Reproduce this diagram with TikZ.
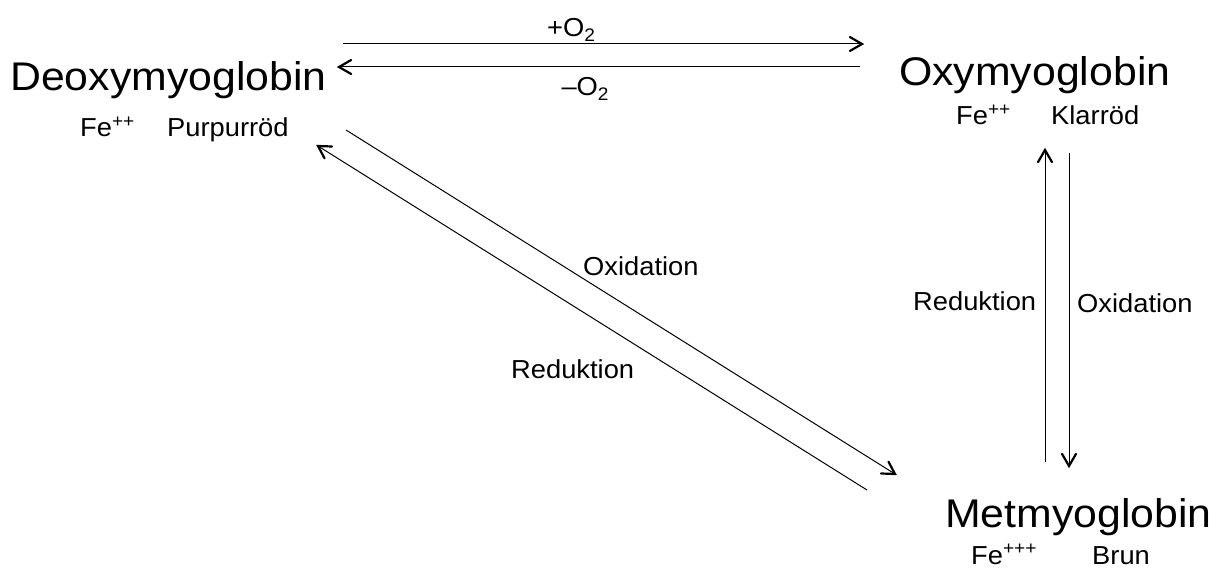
\documentclass[tikz,border=0pt]{standalone}
\usepackage{fontspec}
\setmainfont{Liberation Sans}
\newfontfamily\bigf[FakeStretch=1.07]{Liberation Sans}
\newfontfamily\smallf[FakeStretch=1.05]{Liberation Sans}
\usetikzlibrary{calc}
\newcommand{\mybarb}[2]{\draw[headline] ($(#2)!14pt!30:(#1)$) -- (#2) -- ($(#2)!14pt!-30:(#1)$);}
\begin{document}
\begin{tikzpicture}[x=1pt,y=-1pt,
  title/.style={anchor=base west,inner sep=0pt,font=\bigf\fontsize{40}{48}\selectfont},
  lbl/.style={anchor=base west,inner sep=0pt,font=\smallf\fontsize{26}{30}\selectfont},
  conn/.style={line width=1pt},
  headline/.style={line width=2.2pt,line cap=round,line join=miter}]
\useasboundingbox (0,0) rectangle (1216,569);
% names
\node[title] (deoxy) at (10,91) {Deoxymyoglobin};
\node[lbl] (fe1) at (80,137) {Fe\textsuperscript{++}};
\node[lbl] (pur) at (167,137) {Purpurröd};
\node[title] (oxy) at (899,86) {Oxymyoglobin};
\node[lbl] (fe2) at (956,125) {Fe\textsuperscript{++}};
\node[lbl] (kla) at (1051,125) {Klarröd};
\node[title] (met) at (945,527) {Metmyoglobin};
\node[lbl] (fe3) at (971,564) {Fe\textsuperscript{+++}};
\node[lbl] (brun) at (1092,564) {Brun};
% endpoints
\coordinate (a1) at (343,44);  \coordinate (a2) at (862,44);
\coordinate (b1) at (860,67);  \coordinate (b2) at (339,67);
\coordinate (c1) at (346,130); \coordinate (c2) at (895,474);
\coordinate (d1) at (867,490); \coordinate (d2) at (318,146);
\coordinate (e1) at (1045,462); \coordinate (e2) at (1045,150);
\coordinate (f1) at (1069,153); \coordinate (f2) at (1069,466);
% arrows
\draw[conn] (a1) -- (a2); \mybarb{a1}{a2}
\draw[conn] (b1) -- (b2); \mybarb{b1}{b2}
\draw[conn] (c1) -- (c2); \mybarb{c1}{c2}
\draw[conn] (d1) -- (d2); \mybarb{d1}{d2}
\draw[conn] (e1) -- (e2); \mybarb{e1}{e2}
\draw[conn] (f1) -- (f2); \mybarb{f1}{f2}
% labels
\node[lbl] (plus) at (547,37) {+O\textsubscript{2}};
\node[lbl] (minus) at (557,96) {\,–O\textsubscript{2}};
\node[lbl] (ox1) at (583,276) {Oxidation};
\node[lbl] (red1) at (511,378) {Reduktion};
\node[lbl] (red2) at (913,311) {Reduktion};
\node[lbl] (ox2) at (1077,313) {Oxidation};
\end{tikzpicture}
\end{document}
